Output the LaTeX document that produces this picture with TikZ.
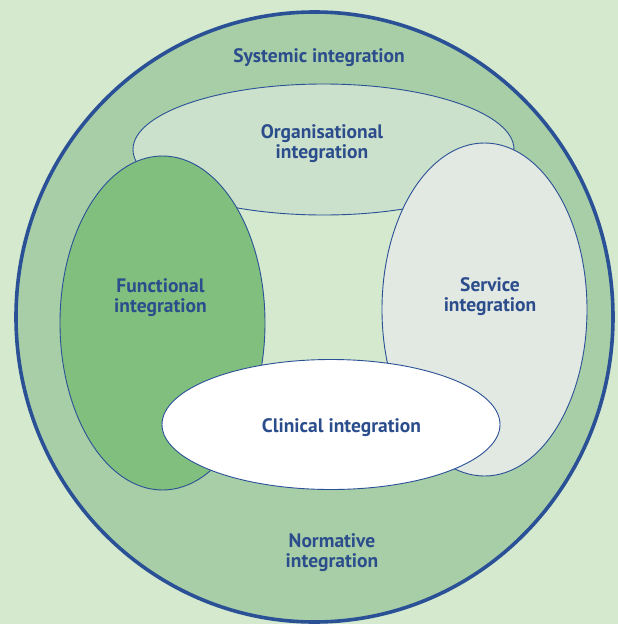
\documentclass[tikz,border=0pt]{standalone}
\usepackage{fontspec}
\setmainfont{PT Sans}
\definecolor{bggreen}{HTML}{D4E9CD}
\definecolor{outergreen}{HTML}{A8CEA8}
\definecolor{orggreen}{HTML}{CCE1CC}
\definecolor{funcgreen}{HTML}{80BF7E}
\definecolor{servgrey}{HTML}{E2E8E2}
\definecolor{lineblue}{HTML}{2A5096}
\definecolor{textblue}{HTML}{2B4D8C}
\begin{document}
\begin{tikzpicture}[x=1pt, y=-1pt,
    label/.style={text=textblue, font=\bfseries\fontsize{19.5}{20}\selectfont, align=center, inner sep=0pt},
    ring/.style={draw=lineblue, line width=0.9pt}]
        \fill[bggreen] (0,0) rectangle (618,624);
        \useasboundingbox (0,0) rectangle (618,624);
        \filldraw[fill=outergreen, draw=lineblue, line width=3.6pt] (314.5,317) ellipse [x radius=298.5pt, y radius=305pt];
        % light hole in the middle, hidden by the four ellipses round it
        \fill[bggreen] (162.5,149.5) rectangle (484.5,424.5);
        \filldraw[ring, fill=orggreen] (323.5,149.5) ellipse [x radius=190.5pt, y radius=65.5pt];
        \filldraw[ring, fill=funcgreen] (162.5,323) ellipse [x radius=102.5pt, y radius=167pt];
        \filldraw[ring, fill=servgrey] (484.5,309.5) ellipse [x radius=102.5pt, y radius=166.5pt];
        \filldraw[ring, fill=white] (331,424.5) ellipse [x radius=169pt, y radius=65pt];
        \node[label] (systemic) at (319,57.5) {Systemic integration};
        \node[label] (organisational) at (322,144) {Organisational\\integration};
        \node[label] (functional) at (160.5,298) {Functional\\integration};
        \node[label] (service) at (490,297) {Service\\integration};
        \node[label] (clinical) at (341.5,428) {Clinical integration};
        \node[label] (normative) at (332,553) {Normative\\integration};
    \end{tikzpicture}
\end{document}
